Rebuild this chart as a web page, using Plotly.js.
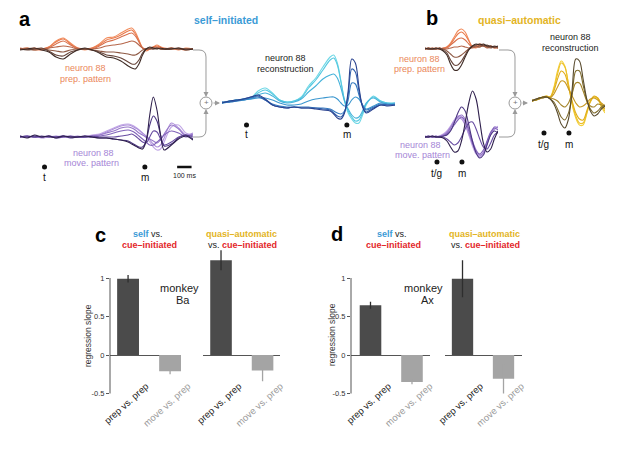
<!DOCTYPE html>
<html><head><meta charset="utf-8">
<script src="https://cdn.plot.ly/plotly-3.0.1.min.js"></script>
<style>html,body{margin:0;padding:0;background:#fff}#chart{width:617px;height:455px}</style>
</head><body><div id="chart"></div>
<script>
// ---------- DATA ----------
// time grids (ms)
const tA = [0,50,100,150,200,250,300,350,400,450,500,550,600,650,700,750,775,800,825,850,875,900,925,950,975,1000,1050,1100,1150,1200];
const tB = [0,25,50,75,100,125,150,175,200,225,250,275,300,325,350,375,400,425,450,475,500];
const eventsA = [170, 866];          // t, m
const eventsB = [82, 253];           // t/g, m
const eventLabelsA = ['t', 'm'];
const eventLabelsB = ['t/g', 'm'];

// panel a: self-initiated, neuron 88 (light -> dark)
const prepA = [
  [0,1,-1,0,2,8,11,6,1,-1, 1,5,11,12,16,20,21,17,9,1, -2,0,2,4,2,0,1,-1,1,0],
  [0,0,1,0,2,7,10,5,0,0, 1,4,9,11,14,18,19,15,8,1, -1,0,2,3,2,1,0,0,-1,0],
  [1,0,0,-1,1,5,8,4,1,0, 0,3,7,9,12,15,16,13,7,1, 0,1,2,2,1,0,1,0,0,0],
  [0,1,0,0,1,2,3,2,0,0, 0,1,3,4,5,7,8,7,4,1, 0,0,1,1,0,0,0,1,0,0],
  [0,0,-1,0,-1,-2,-3,-1,0,0, -1,-2,-3,-3,-4,-5,-6,-6,-4,-1, 0,0,0,1,0,0,0,0,0,0],
  [0,-1,0,1,-2,-6,-7,-3,-1,0, -1,-3,-6,-7,-9,-13,-15,-15,-11,-4, 0,1,0,1,0,0,1,0,0,0],
  [-1,0,1,-1,-3,-8,-10,-5,-1,1, -1,-4,-8,-9,-12,-17,-19,-20,-15,-6, 0,2,1,0,1,0,0,1,-1,0]
];
const moveA = [
  [0,1,0,0,1,0,0,1,0,0, 2,3,6,9,12,13,12,10,7,3, -1,-5,-10,-13,-12,-5,10,12,4,2],
  [0,0,1,-1,0,0,1,0,0,1, 1,2,5,8,11,12,11,9,7,4, 1,-3,-7,-10,-8,-1,14,9,2,4],
  [0,1,0,0,0,1,0,0,1,0, 1,2,4,6,9,10,9,7,4,2, 0,-2,-4,-6,-3,3,12,8,1,3],
  [1,0,0,0,1,0,1,0,0,1, 0,1,2,4,6,7,6,4,1,-2, -5,-8,-8,-5,-2,2,6,4,0,2],
  [0,0,1,0,1,-1,0,1,0,0, 1,0,0,0,1,2,3,1,-2,-5, -6,0,6,5,-2,-8,-5,0,2,0],
  [0,1,0,1,0,0,1,-1,0,0, 0,-1,-1,-2,-3,-4,-6,-8,-10,-10, -4,12,21,16,2,-9,-7,-1,2,-2],
  [1,-1,2,0,1,-1,1,0,0,1, 0,-1,-1,-2,-3,-5,-7,-9,-11,-12, -4,22,40,27,2,-13,-8,-2,1,-3]
];
const reconA = [
  [0,2,3,4,5,12,15,10,3,1, 2,6,17,25,36,46,48,40,22,2, -10,-16,-20,-20,-12,-2,7,2,0,-1],
  [0,1,3,3,5,10,13,9,3,1, 2,5,15,23,33,43,45,38,21,3, -8,-14,-18,-17,-10,-1,6,2,0,0],
  [1,1,2,4,4,8,10,7,2,0, 1,4,11,17,24,28,29,25,15,2, -6,-12,-15,-14,-8,0,5,1,-1,0],
  [0,2,2,3,4,5,5,3,0,-2, -2,-1,2,4,5,6,6,4,0,-3, -2,3,6,4,-2,-6,-3,0,-1,-2],
  [0,1,3,3,5,6,3,-1,-3,-4, -4,-4,-4,-5,-5,-6,-8,-10,-11,-8, 3,20,19,8,-2,-7,-4,-1,-2,-1],
  [1,1,2,4,6,7,3,-2,-4,-5, -4,-5,-5,-5,-6,-7,-10,-13,-14,-9, 8,34,31,12,-3,-9,-5,-2,-2,-2],
  [0,2,3,4,6,8,4,-2,-4,-5, -4,-5,-5,-6,-7,-8,-11,-15,-16,-10, 12,44,40,16,-4,-10,-6,-2,-3,-2]
];
// panel b: quasi-automatic
const prepB = [
  [0,1,0,1,0,1,2,6,12,18,20,17,9,2,1,3,4,2,3,1,2],
  [0,0,1,0,1,0,2,5,10,15,17,14,8,2,2,4,3,3,2,2,1],
  [1,0,0,1,0,1,1,4,7,10,11,9,5,2,3,5,4,2,3,2,2],
  [0,1,0,0,1,0,0,1,2,2,3,2,1,1,2,2,3,1,2,1,1],
  [0,0,1,0,0,0,-2,-5,-8,-8,-6,-3,0,2,3,2,4,2,1,2,1],
  [0,1,0,0,1,-1,-4,-11,-16,-16,-12,-6,0,3,4,5,3,4,2,3,2],
  [1,0,0,1,0,-2,-6,-15,-21,-21,-16,-8,-1,3,5,4,5,3,3,2,3]
];
const moveB = [
  [0,0,1,0,1,3,6,11,17,21,20,13,2,-9,-17,-20,-16,-6,3,7,11],
  [0,1,0,1,0,2,5,10,16,19,18,12,3,-7,-15,-19,-15,-5,4,8,10],
  [1,0,0,0,1,2,4,9,15,20,22,18,8,-4,-13,-18,-16,-7,3,10,9],
  [0,0,0,1,0,1,3,7,12,17,20,16,6,-6,-14,-17,-13,-4,5,9,7],
  [0,0,1,0,0,0,-2,-5,-8,-6,0,8,14,15,8,-2,-10,-12,-6,2,5],
  [0,1,0,0,0,1,2,6,14,24,30,26,12,-4,-16,-21,-18,-8,2,6,4],
  [0,0,1,0,0,-1,-4,-10,-15,-14,-4,14,34,46,38,16,-6,-15,-12,-2,6]
];
const reconB = [
  [0,1,3,4,5,4,14,30,40,35,16,-4,-17,-24,-24,-13,0,4,2,-6,-12],
  [0,1,3,4,4,4,12,27,38,34,17,-2,-15,-22,-22,-12,-1,4,3,-4,-10],
  [1,1,2,4,5,4,10,22,30,27,14,0,-12,-18,-19,-10,0,5,3,-3,-8],
  [0,1,3,3,4,3,7,14,20,19,12,5,-2,-6,-5,-2,2,3,1,-2,-5],
  [0,1,2,4,4,3,2,0,-4,-6,-2,8,18,18,10,0,-5,-6,-3,-4,-5],
  [1,1,3,3,4,2,-1,-8,-16,-19,-12,6,30,30,16,1,-8,-12,-10,-6,-4],
  [0,2,3,4,4,2,-3,-12,-23,-27,-18,12,42,40,22,2,-10,-15,-13,-8,-5]
];

// panels c, d: regression slopes (index 0: self vs cue, 1: quasi-automatic vs cue)
const barCats = ['prep vs. prep', 'move vs. prep'];
const baPrep = [0.99, 1.23];   const baPrepErr = [0.05, 0.13];
const baMove = [-0.21, -0.20]; const baMoveErr = [0.04, 0.14];
const axPrep = [0.645, 0.99];  const axPrepErr = [0.045, 0.24];
const axMove = [-0.35, -0.31]; const axMoveErr = [0.03, 0.19];
const yTicks = [-0.5, 0, 0.5, 1];
const yTickText = ['-0.5', '0', '0.5', '1'];

// ---------- STYLE / LAYOUT ----------
const W = 617, H = 455;
const FONT = 'Liberation Sans, Arial, Helvetica, sans-serif';
const prepColors  = ['#f28c5c','#e97a4c','#d8714d','#b6674b','#8e5944','#664439','#3e2b25'];
const moveColors  = ['#c2a8e6','#ad8fd9','#9879ca','#8062b9','#674ba1','#4d3783','#2e1f4c'];
const reconAColors= ['#6fd8e6','#55c8e0','#45b2da','#3c97cf','#367bc0','#305fac','#29428f'];
const reconBColors= ['#f4d03a','#ecc028','#e0ad1c','#c7981f','#a48428','#7f6c2d','#57492c'];
const BLUE = '#3b9bd6', GOLD = '#e3b424', RED = '#e3262b';

const X = v => v / W;
const Y = v => 1 - v / H;
const domX = (a, b) => [a / W, b / W];
const domY = (top, bot) => [1 - bot / H, 1 - top / H];

const layout = {
  width: W, height: H, margin: {l: 0, r: 0, t: 0, b: 0},
  paper_bgcolor: '#fff', plot_bgcolor: 'rgba(0,0,0,0)',
  showlegend: false, hovermode: false,
  font: {family: FONT, color: '#222'},
  barmode: 'overlay',
  annotations: [], shapes: []
};
function ax(n) { return n === 1 ? '' : String(n); }
function traceAxes(n, xd, yd, xr, yr) {
  layout['xaxis' + ax(n)] = {domain: domX(xd[0], xd[1]), range: xr, visible: false, anchor: 'y' + ax(n), fixedrange: true};
  layout['yaxis' + ax(n)] = {domain: domY(yd[0], yd[1]), range: yr, visible: false, anchor: 'x' + ax(n), fixedrange: true};
}
traceAxes(1, [20, 193], [10, 85], [0, 1200], [-36, 39]);     // prep a
traceAxes(2, [20, 193], [85, 185], [0, 1200], [-48, 52]);    // move a
traceAxes(3, [222, 395], [40, 145], [0, 1200], [-42, 63]);   // recon a
traceAxes(4, [425, 498], [15, 80], [0, 500], [-31, 34]);     // prep b
traceAxes(5, [425, 498], [82, 185], [0, 500], [-48, 55]);    // move b
traceAxes(6, [532, 605], [45, 155], [0, 500], [-54, 56]);    // recon b

const traces = [];
function addLines(sets, t, colors, n) {
  sets.forEach((ys, i) => traces.push({
    type: 'scatter', mode: 'lines', x: t, y: ys,
    xaxis: 'x' + ax(n), yaxis: 'y' + ax(n),
    line: {color: colors[i], width: 1.1, shape: 'spline', smoothing: 0.9}
  }));
}
addLines(prepA, tA, prepColors, 1);
addLines(moveA, tA, moveColors, 2);
addLines(reconA, tA, reconAColors, 3);
addLines(prepB, tB, prepColors, 4);
addLines(moveB, tB, moveColors, 5);
addLines(reconB, tB, reconBColors, 6);

// event dots
function addDots(ev, labels, n, yDot, yLab) {
  traces.push({type: 'scatter', mode: 'markers', x: ev, y: ev.map(() => yDot),
    xaxis: 'x' + ax(n), yaxis: 'y' + ax(n), marker: {color: '#111', size: 5}});
  ev.forEach((e, i) => layout.annotations.push({xref: 'x' + ax(n), yref: 'y' + ax(n), x: e, y: yLab,
    text: labels[i], showarrow: false, font: {size: 10, color: '#111', family: FONT}}));
}
addDots(eventsA, eventLabelsA, 2, -30, -40);
addDots(eventsA, eventLabelsA, 3, -22, -31);
addDots(eventsB, eventLabelsB, 5, -25, -36);
addDots(eventsB, eventLabelsB, 6, -32, -43);

// scale bar 100 ms
layout.shapes.push({type: 'line', xref: 'x2', yref: 'y2', x0: 1090, x1: 1190, y0: -30, y1: -30, line: {color: '#111', width: 2.5}});
layout.annotations.push({xref: 'x2', yref: 'y2', x: 1140, y: -38, text: '100 ms', showarrow: false, font: {size: 7, color: '#222', family: FONT}});

// bar subplots
const barY = [-0.55, 1.42];
const barYDom = domY(355 - 1.42 * 77, 355 + 0.55 * 77);
function barAxes(n, xd, xr, showY) {
  layout['xaxis' + n] = {domain: domX(xd[0], xd[1]), range: xr, anchor: 'free', position: Y(378),
    type: 'category', categoryorder: 'array', categoryarray: barCats,
    showline: false, showgrid: false, zeroline: false, ticks: '', tickangle: -42,
    tickmode: 'array', tickvals: barCats,
    ticktext: [barCats[0], '<span style="color:#9b9b9b">' + barCats[1] + '</span>'],
    tickfont: {size: 9.5, color: '#222', family: FONT}, ticklabelshift: 18, fixedrange: true};
  layout['yaxis' + n] = {domain: barYDom, range: barY, anchor: 'x' + n,
    showline: false, showgrid: false, zeroline: true, zerolinecolor: '#555', zerolinewidth: 1,
    tickmode: 'array', tickvals: yTicks, ticktext: yTickText,
    ticks: showY ? 'outside' : '', ticklen: 3, tickcolor: '#555', tickwidth: 1,
    showticklabels: showY, tickfont: {size: 7.5, color: '#333', family: FONT}, fixedrange: true};
  if (showY) layout.shapes.push({type: 'line', xref: 'x' + n + ' domain', yref: 'y' + n,
    x0: 0, x1: 0, y0: -0.5, y1: 1, line: {color: '#555', width: 1}});
}
barAxes(7, [110, 181], [-0.43, 1.26], true);
barAxes(8, [203, 280], [-0.434, 1.42], false);
barAxes(9, [351, 430], [-0.47, 1.434], true);
barAxes(10, [445, 522], [-0.427, 1.451], false);

function addBars(n, prepV, prepE, moveV, moveE) {
  traces.push({type: 'bar', x: [barCats[0]], y: [prepV], width: 0.52, xaxis: 'x' + n, yaxis: 'y' + n,
    marker: {color: '#4b4b4b', line: {width: 0}},
    error_y: {type: 'data', array: [prepE], color: '#2e2e2e', thickness: 1.3, width: 0}});
  traces.push({type: 'bar', x: [barCats[1]], y: [moveV], width: 0.52, xaxis: 'x' + n, yaxis: 'y' + n,
    marker: {color: '#a4a4a4', line: {width: 0}},
    error_y: {type: 'data', array: [moveE], color: '#a4a4a4', thickness: 1.3, width: 0}});
}
addBars(7, baPrep[0], baPrepErr[0], baMove[0], baMoveErr[0]);
addBars(8, baPrep[1], baPrepErr[1], baMove[1], baMoveErr[1]);
addBars(9, axPrep[0], axPrepErr[0], axMove[0], axMoveErr[0]);
addBars(10, axPrep[1], axPrepErr[1], axMove[1], axMoveErr[1]);

// ---------- TEXT ----------
function A(text, x, y, size, color, extra) {
  layout.annotations.push(Object.assign({xref: 'paper', yref: 'paper', x: X(x), y: Y(y), text: text,
    showarrow: false, xanchor: 'center', yanchor: 'middle',
    font: {size: size, color: color || '#222', family: FONT}}, extra || {}));
}
A('<b>a</b>', 25, 19, 20, '#000');
A('<b>b</b>', 432, 18, 20, '#000');
A('<b>c</b>', 100, 235, 20, '#000');
A('<b>d</b>', 337, 234, 20, '#000');
A('<b>self–initiated</b>', 226, 20, 10.5, BLUE);
A('<b>quasi–automatic</b>', 519, 20, 10.5, GOLD);
const ORANGE_T = '#ea865a', PURPLE_T = '#a585d6';
A('neuron 88', 85, 68, 9, ORANGE_T); A('prep. pattern', 85, 79, 9, ORANGE_T);
A('neuron 88', 93, 153, 9, PURPLE_T); A('move. pattern', 91, 163, 9, PURPLE_T);
A('neuron 88', 285, 58, 9, '#222'); A('reconstruction', 285, 69, 9, '#222');
A('neuron 88', 419, 59, 9, ORANGE_T); A('prep. pattern', 419, 69, 9, ORANGE_T);
A('neuron 88', 420, 145, 9, PURPLE_T); A('move. pattern', 422, 155, 9, PURPLE_T);
A('neuron 88', 570, 37, 9, '#222'); A('reconstruction', 570, 48, 9, '#222');

function titlesCD(cx1, cx2) {
  A('<span style="color:' + BLUE + '"><b>self</b></span> vs.', cx1, 234, 9, '#222');
  A('<b>cue–initiated</b>', cx1 + 1, 245, 9, RED);
  A('<b>quasi–automatic</b>', cx2, 234, 9, GOLD);
  A('vs. <span style="color:' + RED + '"><b>cue–initiated</b></span>', cx2 + 1, 245, 9, '#222');
}
titlesCD(148, 241);
titlesCD(392, 484);
A('regression slope', 88, 336, 8.5, '#333', {textangle: -90});
A('regression slope', 332, 335, 8.5, '#333', {textangle: -90});
A('monkey', 180, 288, 11, '#222'); A('Ba', 183, 300, 11, '#222');
A('monkey', 423, 288, 11, '#222'); A('Ax', 427, 300, 11, '#222');

// ---------- sum nodes & connectors ----------
const C = (x, y) => X(x).toFixed(5) + ',' + Y(y).toFixed(5);
const GRAY = '#9a9a9a';
function sumNode(xs, yTop, yBot, cx, cy, xOut) {
  layout.shapes.push({type: 'path', xref: 'paper', yref: 'paper', line: {color: GRAY, width: 1},
    path: 'M' + C(xs, yTop) + ' L' + C(cx - 7, yTop) + ' Q' + C(cx, yTop) + ' ' + C(cx, yTop + 7) + ' L' + C(cx, cy - 11)});
  layout.shapes.push({type: 'path', xref: 'paper', yref: 'paper', line: {color: GRAY, width: 1},
    path: 'M' + C(xs, yBot) + ' L' + C(cx - 7, yBot) + ' Q' + C(cx, yBot) + ' ' + C(cx, yBot - 7) + ' L' + C(cx, cy + 11)});
  layout.shapes.push({type: 'circle', xref: 'paper', yref: 'paper', x0: X(cx - 6), x1: X(cx + 6), y0: Y(cy + 6), y1: Y(cy - 6),
    line: {color: GRAY, width: 1}, fillcolor: '#fff'});
  A('+', cx, cy, 8, '#777');
  const arr = (x, y, axp, ayp) => layout.annotations.push({xref: 'paper', yref: 'paper', x: X(x), y: Y(y), ax: axp, ay: ayp,
    text: '', showarrow: true, arrowhead: 2, arrowsize: 1, arrowwidth: 1, arrowcolor: GRAY});
  arr(cx, cy - 6, 0, -6);
  arr(cx, cy + 6, 0, 6);
  arr(xOut, cy, -(xOut - cx - 6), 0);
}
sumNode(193, 50, 137, 206, 103, 220);
sumNode(499, 50, 137, 515, 103, 528);

Plotly.newPlot('chart', traces, layout, {staticPlot: true, displayModeBar: false});
</script>
</body></html>
